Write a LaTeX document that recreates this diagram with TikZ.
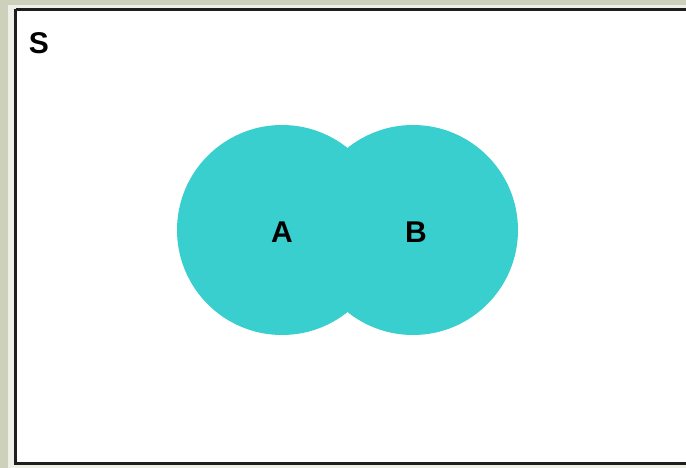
\documentclass[tikz,border=0pt]{standalone}
\usepackage{fontspec}
\setmainfont{Liberation Sans}
\definecolor{bgouter}{RGB}{205,208,186}
\definecolor{bgstrip}{RGB}{238,240,232}
\definecolor{teal}{RGB}{58,207,207}
\definecolor{frame}{RGB}{30,30,30}
\tikzset{
  setc/.style={circle, fill=teal, minimum size=210pt, inner sep=0pt},
  lbl/.style={font=\bfseries\fontsize{30}{30}\selectfont, text=black, inner sep=0pt}
}
\begin{document}
\begin{tikzpicture}[x=1pt,y=-1pt]
\useasboundingbox (0,0) rectangle (686,468);
\fill[bgouter] (0,0) rectangle (686,468);
\fill[bgstrip] (8,5) rectangle (686,468);
\fill[white] (15.5,9) rectangle (686,464);
\draw[frame, line width=2.6pt] (15.5,9.5) -- (700,9.5);
\draw[frame, line width=2.6pt] (15.5,9.5) -- (15.5,463.5) -- (700,463.5);
\node[setc] (cA) at (282,230) {};
\node[setc] (cB) at (413,230) {};
\node[lbl] (A) at (282,232) {A};
\node[lbl] (B) at (416,232) {B};
\node[lbl] (S) at (39,43) {S};
\end{tikzpicture}
\end{document}
